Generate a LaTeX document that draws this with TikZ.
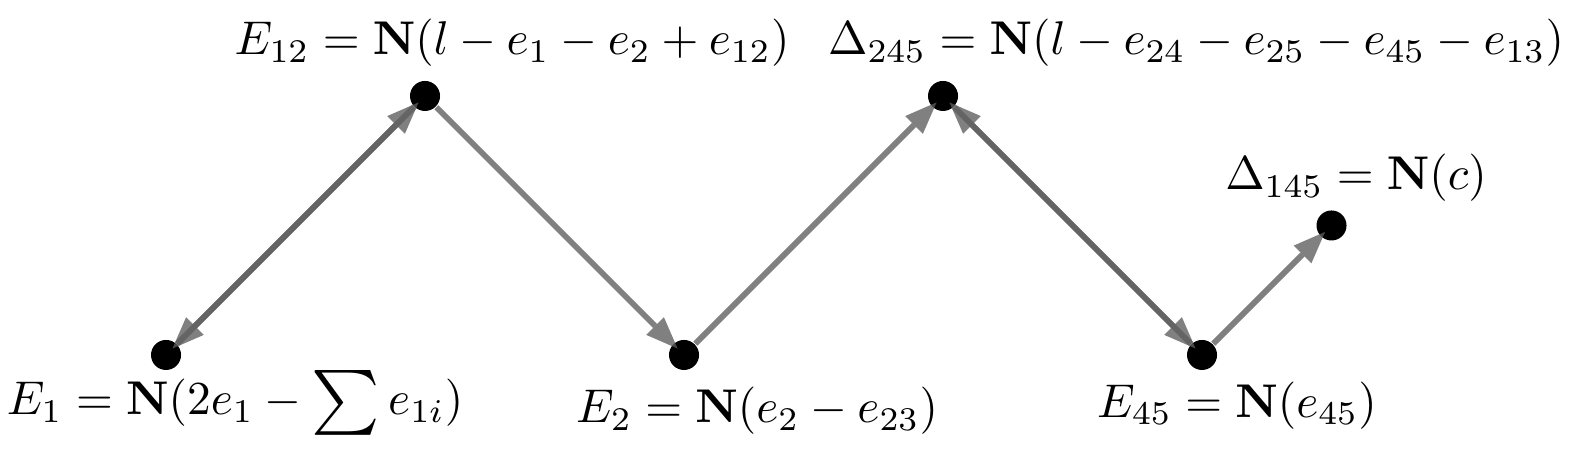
\documentclass[tikz,border=0pt]{standalone}
\usepackage{amsmath}
\usepackage{amssymb}
\usepackage{graphicx}
\usepackage{tikz}
\usetikzlibrary{arrows.meta}
\newcommand{\bigsum}{\mathop{\vcenter{\hbox{\scalebox{1.37}{$\sum$}}}}}

\begin{document}
\begin{tikzpicture}[x=1cm, y=1cm,
		dot/.style={circle, fill=black, inner sep=0pt, minimum size=6.6pt},
		lab/.style={anchor=base, scale=1.04},
		arr/.style={-{Triangle[length=7pt,width=5.5pt,line width=0pt]}, line width=1.25pt, color=black!64, opacity=0.78, shorten >=-1.5pt}]
				\useasboundingbox (-1.282, -0.757) rectangle (10.857, 2.741);
				\node[dot] (E1) at (0, 0) {};
				\node[dot] (E12) at (2, 2) {};
				\node[dot] (E2) at (4, 0) {};
				\node[dot] (D245) at (6, 2) {};
				\node[dot] (E45) at (8, 0) {};
				\node[dot] (D145) at (9, 1) {};
				\node[lab] (E1lab) at (0.533, -0.463) {$E_1 = \mathbf{N}(2e_1 - \bigsum e_{1i})$};
				\node[lab] (E12lab) at (2.672, 2.317) {$E_{12} = \mathbf{N}(l - e_1 - e_2 + e_{12})$};
				\node[lab] (E2lab) at (4.564, -0.525) {$E_2 = \mathbf{N}(e_2 - e_{23})$};
				\node[lab] (D245lab) at (7.954, 2.317) {$\Delta_{245} = \mathbf{N}(l - e_{24} - e_{25} - e_{45} - e_{13})$};
				\node[lab] (E45lab) at (8.27, -0.479) {$E_{45} = \mathbf{N}(e_{45})$};
				\node[lab] (D145lab) at (9.189, 1.274) {$\Delta_{145} = \mathbf{N}(c)$};
				\draw[arr] (E1) -- (E12);
				\draw[arr] (E12) -- (E1);
				\draw[arr] (E12) -- (E2);
				\draw[arr] (E2) -- (D245);
				\draw[arr] (D245) -- (E45);
				\draw[arr] (E45) -- (D245);
				\draw[arr] (E45) -- (D145);
			\end{tikzpicture}
\end{document}
